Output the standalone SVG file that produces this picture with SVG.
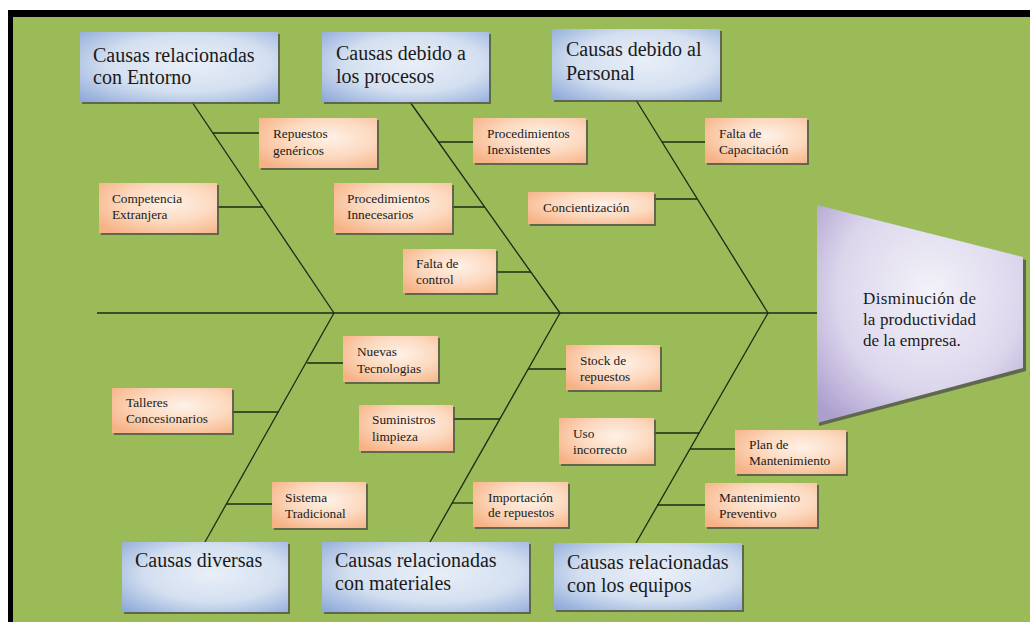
<svg xmlns="http://www.w3.org/2000/svg" width="1030" height="622" viewBox="0 0 1030 622">
  <defs>
    <radialGradient id="gBlue" cx="0.55" cy="0.45" r="0.75">
      <stop offset="0" stop-color="#e9eff8"/>
      <stop offset="0.55" stop-color="#d3dff0"/>
      <stop offset="1" stop-color="#8eaad9"/>
    </radialGradient>
    <radialGradient id="gOrange" cx="0.6" cy="0.4" r="0.75">
      <stop offset="0" stop-color="#fef1e7"/>
      <stop offset="0.5" stop-color="#fcd9bf"/>
      <stop offset="1" stop-color="#f6b184"/>
    </radialGradient>
    <radialGradient id="gHead" cx="0.55" cy="0.4" r="0.75">
      <stop offset="0" stop-color="#f3f2f9"/>
      <stop offset="0.6" stop-color="#dcd6ec"/>
      <stop offset="1" stop-color="#ac9ece"/>
    </radialGradient>
  </defs>
  <style>
    .bg { fill: #9bbb59; }
    .frame { fill: #000000; }
    .shadow { fill: #55584a; opacity: 0.85; }
    .blue { fill: url(#gBlue); }
    .orange { fill: url(#gOrange); }
    .head { fill: url(#gHead); }
    .line { stroke: #1c2a16; stroke-width: 1.3; fill: none; }
    .big { font-size: 20px; }
    .small { font-size: 13.3px; }
    .effect { font-size: 17px; }
  </style>

  <!-- canvas and frame -->
  <rect x="0" y="0" width="1030" height="622" fill="#ffffff"/>
  <rect class="bg" x="8" y="10" width="1022" height="612"/>
  <rect class="frame" x="8" y="10" width="1022" height="7"/>
  <rect class="frame" x="8" y="10" width="5" height="612"/>

  <!-- fishbone lines -->
  <g id="connectors">
    <line class="line" x1="97" y1="313" x2="817" y2="313"/>
    <line class="line" x1="192" y1="102" x2="334" y2="313"/>
    <line class="line" x1="410" y1="102" x2="560" y2="313"/>
    <line class="line" x1="636" y1="100" x2="768" y2="313"/>
    <line class="line" x1="334" y1="313" x2="205" y2="542"/>
    <line class="line" x1="560" y1="313" x2="430" y2="542"/>
    <line class="line" x1="768" y1="313" x2="636" y2="543"/>
    <!-- ribs -->
    <line class="line" x1="213" y1="133" x2="259" y2="133"/>
    <line class="line" x1="217" y1="207" x2="263" y2="207"/>
    <line class="line" x1="438" y1="142" x2="473" y2="142"/>
    <line class="line" x1="452" y1="207" x2="485" y2="207"/>
    <line class="line" x1="496" y1="272" x2="531" y2="272"/>
    <line class="line" x1="662" y1="142" x2="705" y2="142"/>
    <line class="line" x1="654" y1="199" x2="697" y2="199"/>
    <line class="line" x1="307" y1="363" x2="343" y2="363"/>
    <line class="line" x1="232" y1="412" x2="279" y2="412"/>
    <line class="line" x1="226" y1="504" x2="272" y2="504"/>
    <line class="line" x1="528" y1="369" x2="566" y2="369"/>
    <line class="line" x1="453" y1="419" x2="500" y2="419"/>
    <line class="line" x1="452" y1="503" x2="473" y2="503"/>
    <line class="line" x1="654" y1="433" x2="699" y2="433"/>
    <line class="line" x1="690" y1="449" x2="735" y2="449"/>
    <line class="line" x1="657" y1="505" x2="705" y2="505"/>
  </g>

  <g font-family="Liberation Serif, DejaVu Serif, serif" fill="#1a1a1a">
  <!-- category headers -->
  <g id="cat-entorno">
    <rect class="shadow" x="82" y="34" width="198" height="70"/>
    <rect class="blue" x="80" y="32" width="198" height="70"/>
    <text class="big" x="93" y="62">Causas relacionadas</text>
    <text class="big" x="93" y="84">con Entorno</text>
  </g>
  <g id="cat-procesos">
    <rect class="shadow" x="324" y="34" width="167" height="70"/>
    <rect class="blue" x="322" y="32" width="167" height="70"/>
    <text class="big" x="336" y="60">Causas debido a</text>
    <text class="big" x="336" y="83">los procesos</text>
  </g>
  <g id="cat-personal">
    <rect class="shadow" x="554" y="31" width="168" height="71"/>
    <rect class="blue" x="552" y="29" width="168" height="71"/>
    <text class="big" x="566" y="56">Causas debido al</text>
    <text class="big" x="566" y="80">Personal</text>
  </g>
  <g id="cat-diversas">
    <rect class="shadow" x="124" y="544" width="166" height="70"/>
    <rect class="blue" x="122" y="542" width="166" height="70"/>
    <text class="big" x="135" y="567">Causas diversas</text>
  </g>
  <g id="cat-materiales">
    <rect class="shadow" x="324" y="544" width="207" height="70"/>
    <rect class="blue" x="322" y="542" width="207" height="70"/>
    <text class="big" x="335" y="567">Causas relacionadas</text>
    <text class="big" x="335" y="590">con materiales</text>
  </g>
  <g id="cat-equipos">
    <rect class="shadow" x="556" y="545" width="188" height="67"/>
    <rect class="blue" x="554" y="543" width="188" height="67"/>
    <text class="big" x="567" y="569">Causas relacionadas</text>
    <text class="big" x="567" y="592">con los equipos</text>
  </g>

  <!-- causes -->
  <g id="c-repuestos-genericos">
    <rect class="shadow" x="261" y="120" width="118" height="50"/>
    <rect class="orange" x="259" y="118" width="118" height="50"/>
    <text class="small" x="273" y="138">Repuestos</text>
    <text class="small" x="273" y="155">genéricos</text>
  </g>
  <g id="c-competencia">
    <rect class="shadow" x="101" y="185" width="118" height="50"/>
    <rect class="orange" x="99" y="183" width="118" height="50"/>
    <text class="small" x="112" y="203">Competencia</text>
    <text class="small" x="112" y="219">Extranjera</text>
  </g>
  <g id="c-proc-inexistentes">
    <rect class="shadow" x="475" y="120" width="113" height="45"/>
    <rect class="orange" x="473" y="118" width="113" height="45"/>
    <text class="small" x="487" y="138">Procedimientos</text>
    <text class="small" x="487" y="154">Inexistentes</text>
  </g>
  <g id="c-proc-innecesarios">
    <rect class="shadow" x="336" y="185" width="118" height="50"/>
    <rect class="orange" x="334" y="183" width="118" height="50"/>
    <text class="small" x="347" y="203">Procedimientos</text>
    <text class="small" x="347" y="219">Innecesarios</text>
  </g>
  <g id="c-falta-control">
    <rect class="shadow" x="405" y="251" width="93" height="44"/>
    <rect class="orange" x="403" y="249" width="93" height="44"/>
    <text class="small" x="416" y="268">Falta de</text>
    <text class="small" x="416" y="284">control</text>
  </g>
  <g id="c-capacitacion">
    <rect class="shadow" x="707" y="120" width="102" height="45"/>
    <rect class="orange" x="705" y="118" width="102" height="45"/>
    <text class="small" x="719" y="138">Falta de</text>
    <text class="small" x="719" y="154">Capacitación</text>
  </g>
  <g id="c-concientizacion">
    <rect class="shadow" x="530" y="194" width="126" height="32"/>
    <rect class="orange" x="528" y="192" width="126" height="32"/>
    <text class="small" x="543" y="212">Concientización</text>
  </g>
  <g id="c-nuevas-tecnologias">
    <rect class="shadow" x="345" y="338" width="95" height="46"/>
    <rect class="orange" x="343" y="336" width="95" height="46"/>
    <text class="small" x="357" y="356">Nuevas</text>
    <text class="small" x="357" y="373">Tecnologias</text>
  </g>
  <g id="c-talleres">
    <rect class="shadow" x="114" y="390" width="120" height="45"/>
    <rect class="orange" x="112" y="388" width="120" height="45"/>
    <text class="small" x="126" y="407">Talleres</text>
    <text class="small" x="126" y="423">Concesionarios</text>
  </g>
  <g id="c-sistema">
    <rect class="shadow" x="274" y="484" width="94" height="46"/>
    <rect class="orange" x="272" y="482" width="94" height="46"/>
    <text class="small" x="285" y="502">Sistema</text>
    <text class="small" x="285" y="518">Tradicional</text>
  </g>
  <g id="c-stock">
    <rect class="shadow" x="568" y="347" width="94" height="45"/>
    <rect class="orange" x="566" y="345" width="94" height="45"/>
    <text class="small" x="580" y="365">Stock de</text>
    <text class="small" x="580" y="381">repuestos</text>
  </g>
  <g id="c-suministros">
    <rect class="shadow" x="361" y="407" width="94" height="46"/>
    <rect class="orange" x="359" y="405" width="94" height="46"/>
    <text class="small" x="372" y="424">Suministros</text>
    <text class="small" x="372" y="441">limpieza</text>
  </g>
  <g id="c-importacion">
    <rect class="shadow" x="475" y="484" width="95" height="45"/>
    <rect class="orange" x="473" y="482" width="95" height="45"/>
    <text class="small" x="488" y="502">Importación</text>
    <text class="small" x="488" y="517">de repuestos</text>
  </g>
  <g id="c-uso">
    <rect class="shadow" x="561" y="420" width="95" height="46"/>
    <rect class="orange" x="559" y="418" width="95" height="46"/>
    <text class="small" x="573" y="438">Uso</text>
    <text class="small" x="573" y="454">incorrecto</text>
  </g>
  <g id="c-plan">
    <rect class="shadow" x="737" y="432" width="111" height="44"/>
    <rect class="orange" x="735" y="430" width="111" height="44"/>
    <text class="small" x="749" y="449">Plan de</text>
    <text class="small" x="749" y="465">Mantenimiento</text>
  </g>
  <g id="c-preventivo">
    <rect class="shadow" x="707" y="485" width="112" height="44"/>
    <rect class="orange" x="705" y="483" width="112" height="44"/>
    <text class="small" x="719" y="502">Mantenimiento</text>
    <text class="small" x="719" y="518">Preventivo</text>
  </g>

  <!-- effect (fish head) -->
  <g id="effect">
    <polygon class="shadow" points="819,208 1026,260 1026,371 819,426"/>
    <polygon class="head" points="817,205 1023,257 1023,368 817,423"/>
    <text class="effect" x="863" y="304" textLength="113" lengthAdjust="spacing">Disminución de</text>
    <text class="effect" x="863" y="325" textLength="113" lengthAdjust="spacing">la productividad</text>
    <text class="effect" x="863" y="346">de la empresa.</text>
  </g>
  </g>
</svg>
